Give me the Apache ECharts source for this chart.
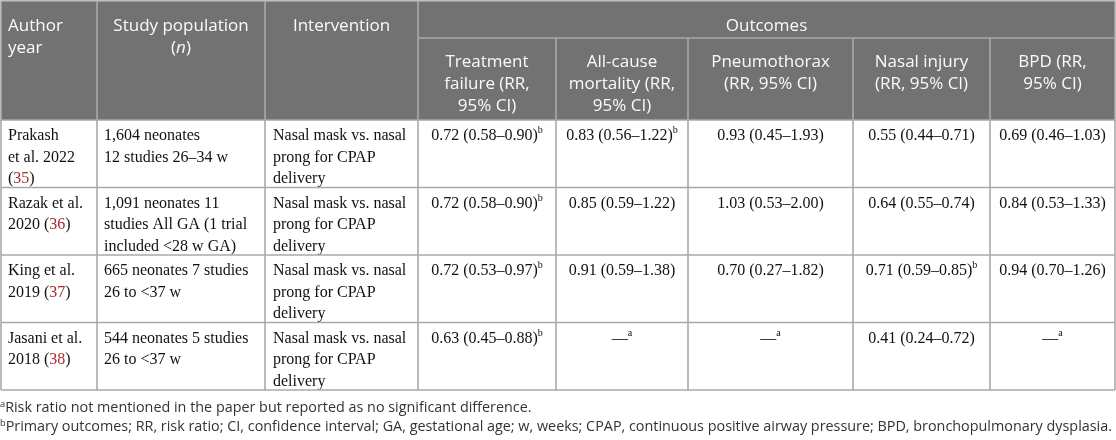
<!DOCTYPE html>
<html><head><meta charset="utf-8">
<script src="https://cdn.jsdelivr.net/npm/echarts@6/dist/echarts.min.js"></script>
<style>html,body{margin:0;padding:0;background:#fff}#main{width:1116px;height:440px}</style>
</head><body><div id="main"></div>
<script>
// ---------- data ----------
const authors = ['Prakash\net al. 2022\n', 'Razak et al.\n2020 ', 'King et al.\n2019 ', 'Jasani et al.\n2018 '];
const refs = ['35', '36', '37', '38'];
const populations = ['1,604 neonates\n12 studies 26–34 w', '1,091 neonates 11\nstudies All GA (1 trial\nincluded <28 w GA)', '665 neonates 7 studies\n26 to <37 w', '544 neonates 5 studies\n26 to <37 w'];
const interventions = ['Nasal mask vs. nasal\nprong for CPAP\ndelivery', 'Nasal mask vs. nasal\nprong for CPAP\ndelivery', 'Nasal mask vs. nasal\nprong for CPAP\ndelivery', 'Nasal mask vs. nasal\nprong for CPAP\ndelivery'];
const treatmentFailure = ['0.72 (0.58–0.90)', '0.72 (0.58–0.90)', '0.72 (0.53–0.97)', '0.63 (0.45–0.88)'];
const treatmentFailureNote = ['b', 'b', 'b', 'b'];
const mortality = ['0.83 (0.56–1.22)', '0.85 (0.59–1.22)', '0.91 (0.59–1.38)', '—'];
const mortalityNote = ['b', '', '', 'a'];
const pneumothorax = ['0.93 (0.45–1.93)', '1.03 (0.53–2.00)', '0.70 (0.27–1.82)', '—'];
const pneumothoraxNote = ['', '', '', 'a'];
const nasalInjury = ['0.55 (0.44–0.71)', '0.64 (0.55–0.74)', '0.71 (0.59–0.85)', '0.41 (0.24–0.72)'];
const nasalInjuryNote = ['', '', 'b', ''];
const bpd = ['0.69 (0.46–1.03)', '0.84 (0.53–1.33)', '0.94 (0.70–1.26)', '—'];
const bpdNote = ['', '', '', 'a'];

const headTop = ['Author\nyear', 'Study population\n({i|n})', 'Intervention'];
const headGroup = 'Outcomes';
const headOutcomes = ['Treatment\nfailure (RR,\n95% CI)', 'All-cause\nmortality (RR,\n95% CI)', 'Pneumothorax\n(RR, 95% CI)', 'Nasal injury\n(RR, 95% CI)', 'BPD (RR,\n95% CI)'];
const footA = 'Risk ratio not mentioned in the paper but reported as no significant difference.';
const footB = 'Primary outcomes; RR, risk ratio; CI, confidence interval; GA, gestational age; w, weeks; CPAP, continuous positive airway pressure; BPD, bronchopulmonary dysplasia.';

// ---------- layout ----------
const colEdges = [1, 97, 265, 418, 556, 688, 853, 990, 1115];
const headerBottom = 120, subTop = 38;
const lineCol = '#a9a9a9';
const headBg = '#727272';
const serif = '"Liberation Serif", "DejaVu Serif", serif';
const sans = '"Open Sans", "Noto Sans", sans-serif';

const outcomeCols = [
  [treatmentFailure, treatmentFailureNote],
  [mortality, mortalityNote],
  [pneumothorax, pneumothoraxNote],
  [nasalInjury, nasalInjuryNote],
  [bpd, bpdNote]
];

const dataRich = {
  sup: { fontSize: 10, lineHeight: 11, verticalAlign: 'top', fontFamily: serif, fill: '#111' },
  ref: { fontSize: 16, lineHeight: 21.5, fontFamily: serif, fill: '#a52a30' }
};

function txt(x, y, text, align) {
  return {
    type: 'text', x: x, y: y,
    style: {
      text: text, align: align, verticalAlign: 'top',
      fontSize: 16, fontFamily: serif, lineHeight: 21.5, fill: '#111',
      rich: dataRich
    }
  };
}

function renderItem(params, api) {
  const i = params.dataIndex;
  const c = api.coord([0, i]);
  const h = api.size([0, 1])[1];
  const top = c[1] - h / 2;
  const X = v => api.coord([v, i])[0];
  const ty = top + 5.5;
  const ch = [];
  ch.push(txt(X(colEdges[0]) + 7, ty, authors[i] + '({ref|' + refs[i] + '})', 'left'));
  ch.push(txt(X(colEdges[1]) + 7, ty, populations[i], 'left'));
  ch.push(txt(X(colEdges[2]) + 8, ty, interventions[i], 'left'));
  outcomeCols.forEach((oc, k) => {
    const cx = (X(colEdges[3 + k]) + X(colEdges[4 + k])) / 2;
    const note = oc[1][i] ? '{sup|' + oc[1][i] + '}' : '';
    ch.push(txt(cx, ty, oc[0][i] + note, 'center'));
  });
  colEdges.forEach(e => ch.push({
    type: 'line', shape: { x1: X(e), y1: top, x2: X(e), y2: top + h },
    style: { stroke: lineCol, lineWidth: 1.6 }
  }));
  ch.push({
    type: 'line', shape: { x1: X(colEdges[0]), y1: top + h, x2: X(colEdges[colEdges.length - 1]), y2: top + h },
    style: { stroke: lineCol, lineWidth: 1.6 }
  });
  return { type: 'group', children: ch };
}

// ---------- header graphics ----------
const headRich = {
  i: { fontStyle: 'italic', fontSize: 17, fontFamily: sans, fill: '#fafafa', lineHeight: 22 }
};
function headText(x, y, text, align) {
  return {
    type: 'text', x: x, y: y, z: 10,
    style: { text: text, align: align, verticalAlign: 'top', fontSize: 17, fontFamily: sans, lineHeight: 22, fill: '#fafafa', rich: headRich }
  };
}
const graphics = [];
graphics.push({ type: 'rect', shape: { x: colEdges[0], y: 1, width: colEdges[8] - colEdges[0], height: headerBottom - 1 }, style: { fill: headBg, stroke: lineCol, lineWidth: 1.6 } });
[1, 2, 3].forEach(k => graphics.push({ type: 'line', z: 5, shape: { x1: colEdges[k], y1: 1, x2: colEdges[k], y2: headerBottom }, style: { stroke: lineCol, lineWidth: 1.6 } }));
[4, 5, 6, 7].forEach(k => graphics.push({ type: 'line', z: 5, shape: { x1: colEdges[k], y1: subTop, x2: colEdges[k], y2: headerBottom }, style: { stroke: lineCol, lineWidth: 1.6 } }));
graphics.push({ type: 'line', z: 5, shape: { x1: colEdges[3], y1: subTop, x2: colEdges[8], y2: subTop }, style: { stroke: lineCol, lineWidth: 1.6 } });
graphics.push(headText(colEdges[0] + 7, 15.5, headTop[0], 'left'));
graphics.push(headText((colEdges[1] + colEdges[2]) / 2, 15.5, headTop[1], 'center'));
graphics.push(headText((colEdges[2] + colEdges[3]) / 2, 15.5, headTop[2], 'center'));
graphics.push(headText((colEdges[3] + colEdges[8]) / 2, 15.5, headGroup, 'center'));
headOutcomes.forEach((t, k) => graphics.push(headText((colEdges[3 + k] + colEdges[4 + k]) / 2, 51.5, t, 'center')));

// footnotes, condensed to fit the width
const footFont = '14px "Open Sans"';
const mctx = document.createElement('canvas').getContext('2d');
mctx.font = footFont;
const wB = mctx.measureText(footB).width;
mctx.font = '9px "Open Sans"';
const wSup = mctx.measureText('b').width;
const footScale = 1113 / (wB + wSup + 1);
const footRich = { sup: { fontSize: 9, lineHeight: 9, verticalAlign: 'top', fontFamily: sans, fill: '#333' } };
graphics.push({ type: 'text', x: 0, y: 400, scaleX: footScale, originX: 0,
  style: { text: '{sup|a}' + footA, verticalAlign: 'top', fontSize: 14, fontFamily: sans, lineHeight: 17, fill: '#333', rich: footRich } });
graphics.push({ type: 'text', x: 0, y: 419, scaleX: footScale, originX: 0,
  style: { text: '{sup|b}' + footB, verticalAlign: 'top', fontSize: 14, fontFamily: sans, lineHeight: 17, fill: '#333', rich: footRich } });

const chart = echarts.init(document.getElementById('main'), null, { renderer: 'canvas' });
chart.setOption({
  animation: false,
  grid: { left: 0, right: 0, top: headerBottom, bottom: 440 - 390 },
  xAxis: { type: 'value', min: 0, max: 1116, show: false },
  yAxis: { type: 'category', data: authors, inverse: true, show: false },
  graphic: graphics,
  series: [{
    type: 'custom',
    renderItem: renderItem,
    data: authors.map((a, i) => [0, i]),
    encode: { x: 0, y: 1 },
    clip: false
  }]
});
</script>
</body></html>
